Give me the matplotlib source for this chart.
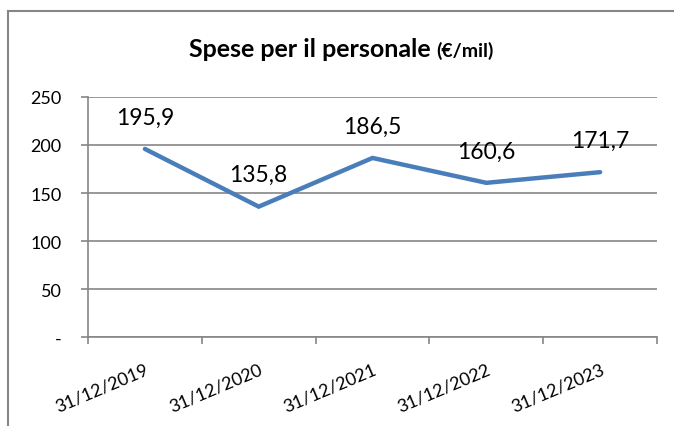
import matplotlib
matplotlib.use('Agg')
import matplotlib.pyplot as plt
from matplotlib.lines import Line2D

# Dati
date = ['31/12/2019', '31/12/2020', '31/12/2021', '31/12/2022', '31/12/2023']
spese = [195.9, 135.8, 186.5, 160.6, 171.7]
etichette = ['195,9', '135,8', '186,5', '160,6', '171,7']
y_ticks = [0, 50, 100, 150, 200, 250]
y_labels = ['-', '50', '100', '150', '200', '250']

plt.rcParams['font.family'] = ['Lato', 'DejaVu Sans']

fig = plt.figure(figsize=(6.74, 4.27), dpi=100)
fig.patch.set_facecolor('white')
ax = fig.add_axes([0.1306, 0.2084, 0.8442, 0.5621])

grigio = '#868686'
x = list(range(len(date)))
ax.plot(x, spese, color='#4a7ebb', linewidth=3.2, solid_capstyle='round',
        solid_joinstyle='miter', zorder=3)

for xi, yi, lab in zip(x, spese, etichette):
    ax.annotate(lab, (xi, yi), xytext=(0, 23), textcoords='offset points',
                ha='center', va='center', fontsize=16.5, color='black')

ax.set_xlim(-0.5, len(date) - 0.5)
ax.set_ylim(0, 250)
ax.set_yticks(y_ticks)
ax.set_yticklabels(y_labels, fontsize=13)
ax.yaxis.grid(True, color=grigio, linewidth=1.2)
ax.set_axisbelow(True)

# tacche ai confini delle categorie, etichette al centro
ax.set_xticks([i - 0.5 for i in range(len(date) + 1)])
ax.set_xticklabels([])
ax.set_xticks(x, minor=True)
ax.set_xticklabels(date, minor=True, rotation=23, ha='right', va='top',
                   rotation_mode='anchor', fontsize=13)
ax.tick_params(axis='x', which='minor', length=0, pad=17)
ax.tick_params(axis='x', which='major', length=5, color=grigio, width=1.2)
ax.tick_params(axis='y', length=5, color=grigio, width=1.2, pad=14)

for s in ['top', 'right']:
    ax.spines[s].set_visible(False)
for s in ['left', 'bottom']:
    ax.spines[s].set_color(grigio)
    ax.spines[s].set_linewidth(1.2)

fig.text(431 / 674, 0.883, 'Spese per il personale', ha='right', va='center',
         fontsize=18, fontweight='bold')
fig.text(436 / 674, 0.880, '(€/mil)', ha='left', va='center',
         fontsize=14, fontweight='bold')

# cornice del grafico
fig.add_artist(Line2D([8 / 674, 1.0], [1 - 12 / 427, 1 - 12 / 427],
                      color=grigio, linewidth=1.5, transform=fig.transFigure))
fig.add_artist(Line2D([8 / 674, 8 / 674], [0, 1 - 12 / 427],
                      color=grigio, linewidth=1.5, transform=fig.transFigure))

fig.savefig('out.png', dpi=100)
